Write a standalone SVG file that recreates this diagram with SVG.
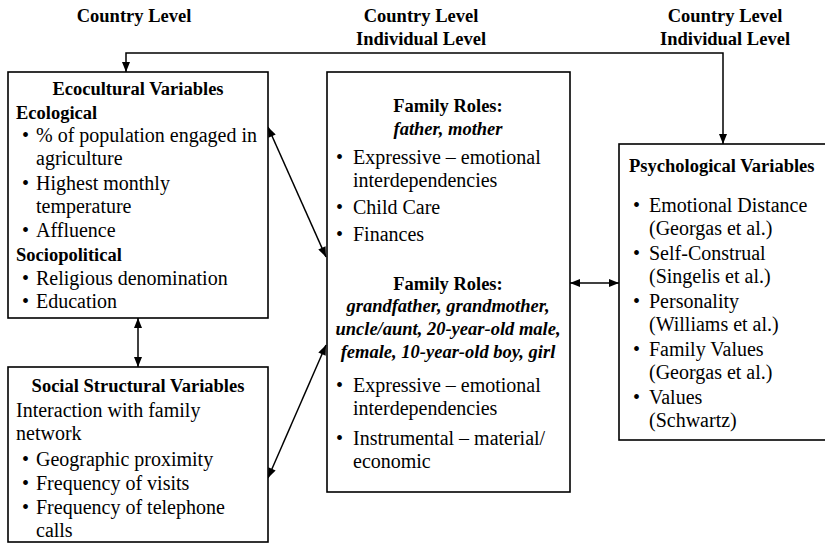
<svg xmlns="http://www.w3.org/2000/svg" width="825" height="544" viewBox="0 0 825 544">
<style>
text{fill:#000}
.b{font-weight:bold;font-size:18.5px}
.bi{font-weight:bold;font-style:italic;font-size:18.5px}
.t{font-size:20px}
.c{text-anchor:middle}
.box{fill:#fff;stroke:#000;stroke-width:1.6}
.ln{fill:none;stroke:#000;stroke-width:1.5;marker-start:url(#ah);marker-end:url(#ah)}
</style>
<defs>
<marker id="ah" viewBox="0 0 10 8" refX="10" refY="4" markerWidth="11" markerHeight="8" markerUnits="userSpaceOnUse" orient="auto-start-reverse">
<path d="M0,0 L10,4 L0,8 Z" fill="#000"/>
</marker>
</defs>
<rect width="825" height="544" fill="#fff"/>
<g font-family="'Liberation Serif', 'Times New Roman', serif">
<g id="levels">
<text class="b c" x="134" y="22">Country Level</text>
<text class="b c" x="421" y="22">Country Level</text>
<text class="b c" x="421" y="45">Individual Level</text>
<text class="b c" x="725" y="22">Country Level</text>
<text class="b c" x="725" y="45">Individual Level</text>
</g>
<g id="connectors">
<path class="ln" d="M723,144 V53 H126 V72"/>
<path class="ln" d="M138,318 V367"/>
<path class="ln" d="M268,127 L326,257"/>
<path class="ln" d="M326,345 L268,478"/>
<path class="ln" d="M570,283 H619"/>
</g>
<g id="ecocultural">
<rect class="box" x="8" y="72" width="260" height="246"/>
<text class="b c" x="138" y="95">Ecocultural Variables</text>
<text class="b" x="16" y="119">Ecological</text>
<text class="t" x="22" y="142">•</text><text class="t" x="36" y="142">% of population engaged in</text>
<text class="t" x="36" y="165">agriculture</text>
<text class="t" x="22" y="190">•</text><text class="t" x="36" y="190">Highest monthly</text>
<text class="t" x="36" y="213">temperature</text>
<text class="t" x="22" y="237">•</text><text class="t" x="36" y="237">Affluence</text>
<text class="b" x="16" y="261">Sociopolitical</text>
<text class="t" x="22" y="285">•</text><text class="t" x="36" y="285">Religious denomination</text>
<text class="t" x="22" y="308">•</text><text class="t" x="36" y="308">Education</text>
</g>
<g id="social">
<rect class="box" x="8" y="367" width="260" height="175"/>
<text class="b c" x="138" y="392">Social Structural Variables</text>
<text class="t" x="16" y="417">Interaction with family</text>
<text class="t" x="16" y="440">network</text>
<text class="t" x="22" y="466">•</text><text class="t" x="36" y="466">Geographic proximity</text>
<text class="t" x="22" y="490">•</text><text class="t" x="36" y="490">Frequency of visits</text>
<text class="t" x="22" y="514">•</text><text class="t" x="36" y="514">Frequency of telephone</text>
<text class="t" x="36" y="537">calls</text>
</g>
<g id="family">
<rect class="box" x="327" y="72" width="243" height="420"/>
<text class="b c" x="448" y="112">Family Roles:</text>
<text class="bi c" x="448" y="135">father, mother</text>
<text class="t" x="336" y="164">•</text><text class="t" x="353" y="164">Expressive – emotional</text>
<text class="t" x="353" y="187">interdependencies</text>
<text class="t" x="336" y="214">•</text><text class="t" x="353" y="214">Child Care</text>
<text class="t" x="336" y="241">•</text><text class="t" x="353" y="241">Finances</text>
<text class="b c" x="448" y="290">Family Roles:</text>
<text class="bi c" x="448" y="312">grandfather, grandmother,</text>
<text class="bi c" x="448" y="335">uncle/aunt, 20-year-old male,</text>
<text class="bi c" x="448" y="358">female, 10-year-old boy, girl</text>
<text class="t" x="336" y="392">•</text><text class="t" x="353" y="392">Expressive – emotional</text>
<text class="t" x="353" y="415">interdependencies</text>
<text class="t" x="336" y="445">•</text><text class="t" x="353" y="445">Instrumental – material/</text>
<text class="t" x="353" y="468">economic</text>
</g>
<g id="psychological">
<rect class="box" x="619" y="144" width="215" height="296"/>
<text class="b" x="629" y="172">Psychological Variables</text>
<text class="t" x="633" y="212">•</text><text class="t" x="649" y="212">Emotional Distance</text>
<text class="t" x="649" y="235">(Georgas et al.)</text>
<text class="t" x="633" y="260">•</text><text class="t" x="649" y="260">Self-Construal</text>
<text class="t" x="649" y="283">(Singelis et al.)</text>
<text class="t" x="633" y="308">•</text><text class="t" x="649" y="308">Personality</text>
<text class="t" x="649" y="331">(Williams et al.)</text>
<text class="t" x="633" y="356">•</text><text class="t" x="649" y="356">Family Values</text>
<text class="t" x="649" y="379">(Georgas et al.)</text>
<text class="t" x="633" y="404">•</text><text class="t" x="649" y="404">Values</text>
<text class="t" x="649" y="427">(Schwartz)</text>
</g>
</g>
</svg>
